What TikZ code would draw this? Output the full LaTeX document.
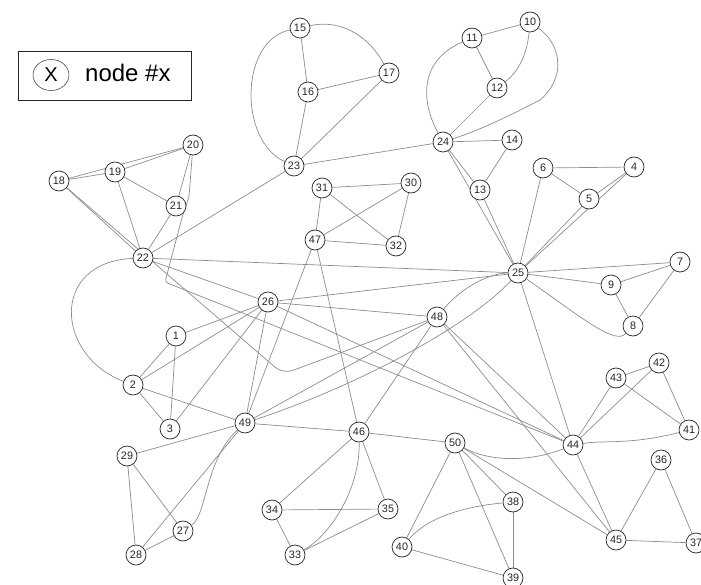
\documentclass[tikz,border=0pt]{standalone}
\usepackage{fontspec}
\setmainfont{Liberation Sans}
\usetikzlibrary{backgrounds,shapes.geometric}
\begin{document}
\begin{tikzpicture}[x=1pt,y=-1pt,
  vtx/.style={circle,draw=black!85,line width=0.7pt,fill=white,minimum size=20pt,
    inner sep=0pt,font=\fontsize{10.8}{10.8}\selectfont,text=black!85},
  lnk/.style={draw=black!45,line width=0.7pt}]
\useasboundingbox (0,0) rectangle (701,585);

% legend
\node[draw=black!85,line width=0.7pt,minimum width=173pt,minimum height=49pt,inner sep=0pt] (legend) at (104.5,75.5) {};
\node[ellipse,draw=black!70,line width=0.6pt,minimum width=36pt,minimum height=31pt,inner sep=0pt,
  font=\fontsize{20}{20}\selectfont] (lx) at (51,75) {X};
\node[anchor=base west,inner sep=0pt,font=\fontsize{24}{24}\selectfont] (ltext) at (85,82) {node \#x};

% vertices
\node[vtx] (n1) at (176,336) {1};
\node[vtx] (n2) at (133,385) {2};
\node[vtx] (n3) at (170,429) {3};
\node[vtx] (n4) at (634,167) {4};
\node[vtx] (n5) at (589,199) {5};
\node[vtx] (n6) at (543,168) {6};
\node[vtx] (n7) at (680,262) {7};
\node[vtx] (n8) at (633,326) {8};
\node[vtx] (n9) at (611,285) {9};
\node[vtx] (n10) at (530,22) {10};
\node[vtx] (n11) at (472,38) {11};
\node[vtx] (n12) at (497,88) {12};
\node[vtx] (n13) at (480,190) {13};
\node[vtx] (n14) at (512,140) {14};
\node[vtx] (n15) at (300,28) {15};
\node[vtx] (n16) at (308,92) {16};
\node[vtx] (n17) at (389,73) {17};
\node[vtx] (n18) at (59,181) {18};
\node[vtx] (n19) at (115,172) {19};
\node[vtx] (n20) at (193,145) {20};
\node[vtx] (n21) at (176,206) {21};
\node[vtx] (n22) at (143,258) {22};
\node[vtx] (n23) at (294,166) {23};
\node[vtx] (n24) at (443,142) {24};
\node[vtx] (n25) at (518,273) {25};
\node[vtx] (n26) at (268,302) {26};
\node[vtx] (n27) at (183,531) {27};
\node[vtx] (n28) at (136,555) {28};
\node[vtx] (n29) at (127,456) {29};
\node[vtx] (n30) at (411,183) {30};
\node[vtx] (n31) at (322,188) {31};
\node[vtx] (n32) at (396,246) {32};
\node[vtx] (n33) at (295,555) {33};
\node[vtx] (n34) at (272,510) {34};
\node[vtx] (n35) at (388,509) {35};
\node[vtx] (n36) at (661,460) {36};
\node[vtx] (n37) at (696,543) {37};
\node[vtx] (n38) at (513,502) {38};
\node[vtx] (n39) at (513,578) {39};
\node[vtx] (n40) at (402,547) {40};
\node[vtx] (n41) at (689,430) {41};
\node[vtx] (n42) at (659,363) {42};
\node[vtx] (n43) at (616,378) {43};
\node[vtx] (n44) at (573,445) {44};
\node[vtx] (n45) at (616,540) {45};
\node[vtx] (n46) at (359,432) {46};
\node[vtx] (n47) at (315,240) {47};
\node[vtx] (n48) at (437,317) {48};
\node[vtx] (n49) at (245,423) {49};
\node[vtx] (n50) at (455,443) {50};

% bend points of routed links
\coordinate (k18) at (283,374);
\coordinate (k20a) at (189,197);
\coordinate (k20b) at (183,214);
\coordinate (k20c) at (165,282);
\coordinate (k10) at (540,100);

\begin{scope}[on background layer]
  % straight links
  \foreach \a/\b in {1/2,1/3,2/3,1/26,2/26,3/26,2/49,
      4/5,4/6,5/6,25/4,25/5,25/6,
      7/8,8/9,7/9,25/7,25/9,
      10/11,11/12,12/24,
      13/14,14/24,13/24,13/25,24/25,23/24,
      15/16,16/17,16/23,17/23,
      18/19,18/20,19/20,19/21,20/21,18/22,19/22,21/22,22/23,22/25,22/26,
      26/25,26/48,26/44,26/49,
      27/28,27/29,28/29,29/49,28/49,
      30/31,31/32,30/32,31/47,30/47,32/47,47/49,47/46,
      33/34,34/35,33/35,34/46,35/46,
      36/37,36/45,37/45,
      38/39,38/50,39/50,40/50,39/40,
      41/42,41/43,42/43,43/44,42/44,
      44/45,25/44,48/44,48/45,50/45,
      46/49,46/48,46/50,48/49}
    \draw[lnk] (n\a) -- (n\b);
  % curved links
  \draw[lnk] (n22) .. controls (50,262) and (55,355) .. (n2);
  \draw[lnk] (n15) .. controls (240,40) and (238,140) .. (n23);
  \draw[lnk] (n15) .. controls (335,20) and (365,30) .. (n17);
  \draw[lnk] (n11) .. controls (420,60) and (420,100) .. (n24);
  \draw[lnk] (n10) .. controls (527,55) and (518,72) .. (n12);
  \draw[lnk] (n10) .. controls (562,45) and (566,78) .. (k10) .. controls (505,118) and (480,130) .. (n24);
  \draw[lnk] (n25) .. controls (585,320) and (615,345) .. (n8);
  \draw[lnk] (n48) .. controls (462,287) and (490,273) .. (n25);
  \draw[lnk] (n49) .. controls (360,385) and (470,325) .. (n25);
  \draw[lnk] (n49) .. controls (205,460) and (207,515) .. (n27);
  \draw[lnk] (n46) .. controls (360,490) and (330,535) .. (n33);
  \draw[lnk] (n50) .. controls (490,462) and (530,462) .. (n44);
  \draw[lnk] (n44) .. controls (605,440) and (630,445) .. (n41);
  \draw[lnk] (n40) .. controls (430,515) and (470,506) .. (n38);
  \draw[lnk,rounded corners=10pt] (n18) -- (k18) -- (n48);
  \draw[lnk,rounded corners=3pt] (n20) -- (k20a) -- (k20b) -- (k20c) -- (n44);
\end{scope}
\end{tikzpicture}
\end{document}
